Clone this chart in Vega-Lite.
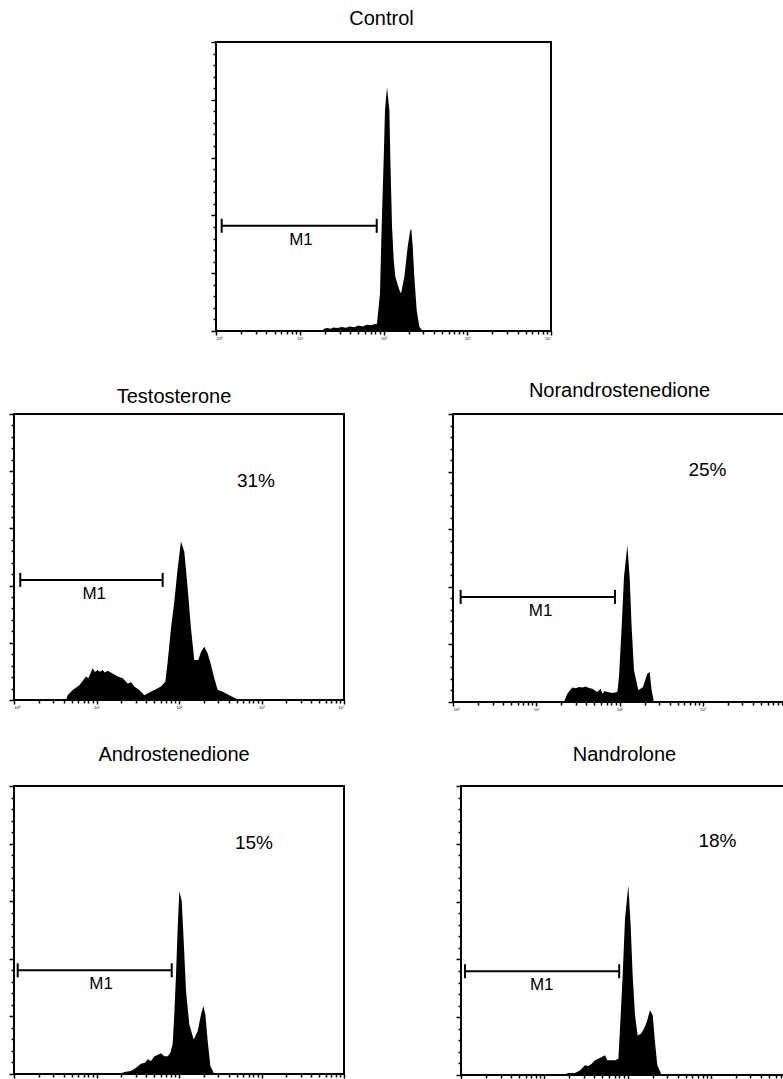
{
  "$schema": "https://vega.github.io/schema/vega-lite/v6.json",
  "padding": {"left": 7, "top": 8, "right": 0, "bottom": 0},
  "background": "white",
  "datasets": {
    "hist": [
      {"p":"Control","x":1.27,"y":0},{"p":"Control","x":1.29,"y":0.8},{"p":"Control","x":1.33,"y":1.0},{"p":"Control","x":1.37,"y":0.8},{"p":"Control","x":1.40,"y":1.2},{"p":"Control","x":1.45,"y":1.0},{"p":"Control","x":1.50,"y":1.4},{"p":"Control","x":1.55,"y":1.1},{"p":"Control","x":1.60,"y":1.6},{"p":"Control","x":1.65,"y":1.3},{"p":"Control","x":1.70,"y":1.9},{"p":"Control","x":1.75,"y":1.6},{"p":"Control","x":1.80,"y":2.2},{"p":"Control","x":1.85,"y":2.0},{"p":"Control","x":1.90,"y":2.4},{"p":"Control","x":1.922,"y":2.5},{"p":"Control","x":1.958,"y":13.0},{"p":"Control","x":1.978,"y":36.1},{"p":"Control","x":2.002,"y":59.2},{"p":"Control","x":2.018,"y":76.5},{"p":"Control","x":2.042,"y":84.3},{"p":"Control","x":2.070,"y":76.5},{"p":"Control","x":2.082,"y":59.2},{"p":"Control","x":2.102,"y":36.1},{"p":"Control","x":2.122,"y":24.6},{"p":"Control","x":2.141,"y":18.8},{"p":"Control","x":2.189,"y":14.2},{"p":"Control","x":2.209,"y":13.0},{"p":"Control","x":2.249,"y":18.8},{"p":"Control","x":2.289,"y":29.2},{"p":"Control","x":2.320,"y":34.9},{"p":"Control","x":2.332,"y":35.2},{"p":"Control","x":2.349,"y":29.2},{"p":"Control","x":2.368,"y":18.8},{"p":"Control","x":2.396,"y":7.3},{"p":"Control","x":2.428,"y":1.5},{"p":"Control","x":2.468,"y":0},
      {"p":"Testosterone","x":0.630,"y":0},{"p":"Testosterone","x":0.651,"y":1.7},{"p":"Testosterone","x":0.711,"y":3.5},{"p":"Testosterone","x":0.792,"y":5.2},{"p":"Testosterone","x":0.873,"y":8.2},{"p":"Testosterone","x":0.901,"y":7.6},{"p":"Testosterone","x":0.954,"y":11.1},{"p":"Testosterone","x":0.98,"y":9.8},{"p":"Testosterone","x":1.014,"y":10.5},{"p":"Testosterone","x":1.04,"y":9.9},{"p":"Testosterone","x":1.075,"y":10.5},{"p":"Testosterone","x":1.10,"y":9.6},{"p":"Testosterone","x":1.136,"y":10.2},{"p":"Testosterone","x":1.196,"y":9.3},{"p":"Testosterone","x":1.257,"y":8.2},{"p":"Testosterone","x":1.318,"y":7.6},{"p":"Testosterone","x":1.378,"y":5.8},{"p":"Testosterone","x":1.42,"y":6.2},{"p":"Testosterone","x":1.458,"y":4.7},{"p":"Testosterone","x":1.519,"y":3.5},{"p":"Testosterone","x":1.58,"y":1.7},{"p":"Testosterone","x":1.62,"y":2.3},{"p":"Testosterone","x":1.70,"y":3.5},{"p":"Testosterone","x":1.782,"y":4.7},{"p":"Testosterone","x":1.834,"y":6.4},{"p":"Testosterone","x":1.863,"y":13.4},{"p":"Testosterone","x":1.903,"y":25.1},{"p":"Testosterone","x":1.943,"y":34.4},{"p":"Testosterone","x":1.984,"y":46.1},{"p":"Testosterone","x":2.024,"y":55.4},{"p":"Testosterone","x":2.064,"y":51.9},{"p":"Testosterone","x":2.105,"y":39.1},{"p":"Testosterone","x":2.145,"y":25.1},{"p":"Testosterone","x":2.185,"y":14.0},{"p":"Testosterone","x":2.234,"y":14.0},{"p":"Testosterone","x":2.267,"y":16.9},{"p":"Testosterone","x":2.307,"y":18.6},{"p":"Testosterone","x":2.348,"y":16.3},{"p":"Testosterone","x":2.388,"y":12.2},{"p":"Testosterone","x":2.428,"y":7.6},{"p":"Testosterone","x":2.469,"y":3.5},{"p":"Testosterone","x":2.53,"y":2.9},{"p":"Testosterone","x":2.61,"y":1.7},{"p":"Testosterone","x":2.67,"y":0.8},{"p":"Testosterone","x":2.731,"y":0},
      {"p":"Norandrostenedione","x":1.333,"y":0},{"p":"Norandrostenedione","x":1.373,"y":2.9},{"p":"Norandrostenedione","x":1.433,"y":5.0},{"p":"Norandrostenedione","x":1.474,"y":4.8},{"p":"Norandrostenedione","x":1.514,"y":5.2},{"p":"Norandrostenedione","x":1.554,"y":5.0},{"p":"Norandrostenedione","x":1.594,"y":5.4},{"p":"Norandrostenedione","x":1.633,"y":4.9},{"p":"Norandrostenedione","x":1.673,"y":4.6},{"p":"Norandrostenedione","x":1.733,"y":3.5},{"p":"Norandrostenedione","x":1.774,"y":4.6},{"p":"Norandrostenedione","x":1.794,"y":2.9},{"p":"Norandrostenedione","x":1.82,"y":3.8},{"p":"Norandrostenedione","x":1.854,"y":3.5},{"p":"Norandrostenedione","x":1.914,"y":3.1},{"p":"Norandrostenedione","x":1.974,"y":3.5},{"p":"Norandrostenedione","x":1.994,"y":8.7},{"p":"Norandrostenedione","x":2.026,"y":26.0},{"p":"Norandrostenedione","x":2.054,"y":43.4},{"p":"Norandrostenedione","x":2.094,"y":54.4},{"p":"Norandrostenedione","x":2.122,"y":43.4},{"p":"Norandrostenedione","x":2.146,"y":26.0},{"p":"Norandrostenedione","x":2.174,"y":11.0},{"p":"Norandrostenedione","x":2.226,"y":4.1},{"p":"Norandrostenedione","x":2.282,"y":5.2},{"p":"Norandrostenedione","x":2.334,"y":9.8},{"p":"Norandrostenedione","x":2.362,"y":10.4},{"p":"Norandrostenedione","x":2.386,"y":4.1},{"p":"Norandrostenedione","x":2.414,"y":0},
      {"p":"Androstenedione","x":1.277,"y":0},{"p":"Androstenedione","x":1.337,"y":0.7},{"p":"Androstenedione","x":1.418,"y":1.0},{"p":"Androstenedione","x":1.479,"y":2.2},{"p":"Androstenedione","x":1.539,"y":3.6},{"p":"Androstenedione","x":1.588,"y":3.9},{"p":"Androstenedione","x":1.620,"y":5.1},{"p":"Androstenedione","x":1.661,"y":4.5},{"p":"Androstenedione","x":1.701,"y":6.2},{"p":"Androstenedione","x":1.741,"y":6.6},{"p":"Androstenedione","x":1.782,"y":7.2},{"p":"Androstenedione","x":1.822,"y":6.2},{"p":"Androstenedione","x":1.863,"y":6.2},{"p":"Androstenedione","x":1.895,"y":7.4},{"p":"Androstenedione","x":1.923,"y":10.3},{"p":"Androstenedione","x":1.943,"y":20.7},{"p":"Androstenedione","x":1.964,"y":34.6},{"p":"Androstenedione","x":1.984,"y":50.8},{"p":"Androstenedione","x":2.004,"y":63.5},{"p":"Androstenedione","x":2.033,"y":60.1},{"p":"Androstenedione","x":2.057,"y":46.2},{"p":"Androstenedione","x":2.085,"y":28.8},{"p":"Androstenedione","x":2.125,"y":17.3},{"p":"Androstenedione","x":2.178,"y":12.0},{"p":"Androstenedione","x":2.227,"y":14.9},{"p":"Androstenedione","x":2.267,"y":20.7},{"p":"Androstenedione","x":2.295,"y":23.6},{"p":"Androstenedione","x":2.319,"y":20.7},{"p":"Androstenedione","x":2.348,"y":11.5},{"p":"Androstenedione","x":2.38,"y":2.8},{"p":"Androstenedione","x":2.428,"y":0},
      {"p":"Nandrolone","x":1.229,"y":0},{"p":"Nandrolone","x":1.289,"y":0.7},{"p":"Nandrolone","x":1.369,"y":0.7},{"p":"Nandrolone","x":1.429,"y":1.6},{"p":"Nandrolone","x":1.489,"y":3.4},{"p":"Nandrolone","x":1.529,"y":3.1},{"p":"Nandrolone","x":1.57,"y":3.9},{"p":"Nandrolone","x":1.61,"y":5.1},{"p":"Nandrolone","x":1.649,"y":5.6},{"p":"Nandrolone","x":1.69,"y":6.2},{"p":"Nandrolone","x":1.73,"y":6.8},{"p":"Nandrolone","x":1.757,"y":5.1},{"p":"Nandrolone","x":1.79,"y":5.1},{"p":"Nandrolone","x":1.85,"y":5.1},{"p":"Nandrolone","x":1.89,"y":5.6},{"p":"Nandrolone","x":1.91,"y":16.0},{"p":"Nandrolone","x":1.942,"y":34.5},{"p":"Nandrolone","x":1.97,"y":54.1},{"p":"Nandrolone","x":2.01,"y":65.6},{"p":"Nandrolone","x":2.038,"y":51.8},{"p":"Nandrolone","x":2.062,"y":34.5},{"p":"Nandrolone","x":2.09,"y":20.7},{"p":"Nandrolone","x":2.122,"y":13.7},{"p":"Nandrolone","x":2.162,"y":14.3},{"p":"Nandrolone","x":2.198,"y":16.0},{"p":"Nandrolone","x":2.231,"y":18.3},{"p":"Nandrolone","x":2.27,"y":22.4},{"p":"Nandrolone","x":2.303,"y":20.7},{"p":"Nandrolone","x":2.33,"y":11.5},{"p":"Nandrolone","x":2.358,"y":3.4},{"p":"Nandrolone","x":2.41,"y":0}
    ],
    "gate": [
      {"p":"Control","x1":0.068,"x2":1.919,"xm":1.015,"y":36.4,"label":"M1"},
      {"p":"Testosterone","x1":0.076,"x2":1.802,"xm":0.973,"y":42.0,"label":"M1"},
      {"p":"Norandrostenedione","x1":0.092,"x2":1.946,"xm":1.053,"y":36.5,"label":"M1"},
      {"p":"Androstenedione","x1":0.045,"x2":1.912,"xm":1.055,"y":36.0,"label":"M1"},
      {"p":"Nandrolone","x1":0.048,"x2":1.90,"xm":0.97,"y":35.9,"label":"M1"}
    ],
    "pct": [
      {"p":"Testosterone","x":2.933,"y":76.4,"label":"31%"},
      {"p":"Norandrostenedione","x":3.057,"y":80.6,"label":"25%"},
      {"p":"Androstenedione","x":2.909,"y":80.2,"label":"15%"},
      {"p":"Nandrolone","x":3.081,"y":80.8,"label":"18%"}
    ]
  },
  "vconcat": [
    {
      "hconcat": [
        {"width": 195, "height": 10, "view": {"stroke": null}, "data": {"values": []}, "mark": "text", "encoding": {}},
        {
          "title": {"text": "Control", "offset": 12, "dx": -2},
          "width": 335, "height": 289,
          "layer": [
            {"data": {"name": "hist"}, "transform": [{"filter": "datum.p === 'Control'"}], "mark": {"type": "area", "color": "black", "interpolate": "linear"},
             "encoding": {
               "x": {"field": "x", "type": "quantitative", "scale": {"domain": [0, 4], "nice": false, "zero": false}, "axis": {"title": null, "tickCount": 100, "values": [0,0.301,0.477,0.602,0.699,0.778,0.845,0.903,0.954,1,1.301,1.477,1.602,1.699,1.778,1.845,1.903,1.954,2,2.301,2.477,2.602,2.699,2.778,2.845,2.903,2.954,3,3.301,3.477,3.602,3.699,3.778,3.845,3.903,3.954,4], "labelExpr": "datum.value % 1 === 0 ? '10' + ['⁰','¹','²','³','⁴'][datum.value] : ''", "labelFontSize": 4, "labelPadding": 1, "labelOverlap": false, "tickSize": {"condition": {"test": "datum.value % 1 === 0", "value": 4}, "value": 3}}},
               "y": {"field": "y", "type": "quantitative", "scale": {"domain": [0, 100], "nice": false}, "axis": {"title": null, "tickCount": 100, "labels": false, "values": [0,4,8,12,16,20,24,28,32,36,40,44,48,52,56,60,64,68,72,76,80,84,88,92,96,100], "tickSize": {"condition": {"test": "datum.value % 20 === 0", "value": 5}, "value": 3}}}
             }},
            {"data": {"name": "gate"}, "transform": [{"filter": "datum.p === 'Control'"}], "mark": {"type": "rule", "color": "black", "strokeWidth": 2},
             "encoding": {"x": {"field": "x1", "type": "quantitative", "title": null}, "x2": {"field": "x2"}, "y": {"field": "y", "type": "quantitative", "title": null}}},
            {"data": {"name": "gate"}, "transform": [{"filter": "datum.p === 'Control'"}], "mark": {"type": "tick", "orient": "vertical", "color": "black", "thickness": 2, "size": 14, "opacity": 1},
             "encoding": {"x": {"field": "x1", "type": "quantitative", "title": null}, "y": {"field": "y", "type": "quantitative", "title": null}}},
            {"data": {"name": "gate"}, "transform": [{"filter": "datum.p === 'Control'"}], "mark": {"type": "tick", "orient": "vertical", "color": "black", "thickness": 2, "size": 14, "opacity": 1},
             "encoding": {"x": {"field": "x2", "type": "quantitative", "title": null}, "y": {"field": "y", "type": "quantitative", "title": null}}},
            {"data": {"name": "gate"}, "transform": [{"filter": "datum.p === 'Control'"}], "mark": {"type": "text", "dy": 14, "fontSize": 17, "baseline": "middle", "color": "black"},
             "encoding": {"x": {"field": "xm", "type": "quantitative", "title": null}, "y": {"field": "y", "type": "quantitative", "title": null}, "text": {"field": "label"}}}
          ]
        }
      ],
      "spacing": 0
    },
    {
      "vconcat": [
        {
          "hconcat": [
            {
              "title": {"text": "Testosterone", "offset": 6, "dx": -5},
              "width": 330, "height": 286,
              "layer": [
                {"data": {"name": "hist"}, "transform": [{"filter": "datum.p === 'Testosterone'"}], "mark": {"type": "area", "color": "black", "interpolate": "linear"},
                 "encoding": {
                   "x": {"field": "x", "type": "quantitative", "scale": {"domain": [0, 4], "nice": false, "zero": false}, "axis": {"title": null, "tickCount": 100, "values": [0,0.301,0.477,0.602,0.699,0.778,0.845,0.903,0.954,1,1.301,1.477,1.602,1.699,1.778,1.845,1.903,1.954,2,2.301,2.477,2.602,2.699,2.778,2.845,2.903,2.954,3,3.301,3.477,3.602,3.699,3.778,3.845,3.903,3.954,4], "labelExpr": "datum.value % 1 === 0 ? '10' + ['⁰','¹','²','³','⁴'][datum.value] : ''", "labelFontSize": 4, "labelPadding": 1, "labelOverlap": false, "tickSize": {"condition": {"test": "datum.value % 1 === 0", "value": 4}, "value": 3}}},
                   "y": {"field": "y", "type": "quantitative", "scale": {"domain": [0, 100], "nice": false}, "axis": {"title": null, "tickCount": 100, "labels": false, "values": [0,4,8,12,16,20,24,28,32,36,40,44,48,52,56,60,64,68,72,76,80,84,88,92,96,100], "tickSize": {"condition": {"test": "datum.value % 20 === 0", "value": 5}, "value": 3}}}
                 }},
                {"data": {"name": "gate"}, "transform": [{"filter": "datum.p === 'Testosterone'"}], "mark": {"type": "rule", "color": "black", "strokeWidth": 2},
                 "encoding": {"x": {"field": "x1", "type": "quantitative", "title": null}, "x2": {"field": "x2"}, "y": {"field": "y", "type": "quantitative", "title": null}}},
                {"data": {"name": "gate"}, "transform": [{"filter": "datum.p === 'Testosterone'"}], "mark": {"type": "tick", "orient": "vertical", "color": "black", "thickness": 2, "size": 14, "opacity": 1},
                 "encoding": {"x": {"field": "x1", "type": "quantitative", "title": null}, "y": {"field": "y", "type": "quantitative", "title": null}}},
                {"data": {"name": "gate"}, "transform": [{"filter": "datum.p === 'Testosterone'"}], "mark": {"type": "tick", "orient": "vertical", "color": "black", "thickness": 2, "size": 14, "opacity": 1},
                 "encoding": {"x": {"field": "x2", "type": "quantitative", "title": null}, "y": {"field": "y", "type": "quantitative", "title": null}}},
                {"data": {"name": "gate"}, "transform": [{"filter": "datum.p === 'Testosterone'"}], "mark": {"type": "text", "dy": 14, "fontSize": 17, "baseline": "middle", "color": "black"},
                 "encoding": {"x": {"field": "xm", "type": "quantitative", "title": null}, "y": {"field": "y", "type": "quantitative", "title": null}, "text": {"field": "label"}}},
                {"data": {"name": "pct"}, "transform": [{"filter": "datum.p === 'Testosterone'"}], "mark": {"type": "text", "fontSize": 19, "baseline": "middle", "color": "black"},
                 "encoding": {"x": {"field": "x", "type": "quantitative", "title": null}, "y": {"field": "y", "type": "quantitative", "title": null}, "text": {"field": "label"}}}
              ]
            },
            {
              "title": {"text": "Norandrostenedione", "offset": 12},
              "width": 333, "height": 288,
              "layer": [
                {"data": {"name": "hist"}, "transform": [{"filter": "datum.p === 'Norandrostenedione'"}], "mark": {"type": "area", "color": "black", "interpolate": "linear"},
                 "encoding": {
                   "x": {"field": "x", "type": "quantitative", "scale": {"domain": [0, 4], "nice": false, "zero": false}, "axis": {"title": null, "tickCount": 100, "values": [0,0.301,0.477,0.602,0.699,0.778,0.845,0.903,0.954,1,1.301,1.477,1.602,1.699,1.778,1.845,1.903,1.954,2,2.301,2.477,2.602,2.699,2.778,2.845,2.903,2.954,3,3.301,3.477,3.602,3.699,3.778,3.845,3.903,3.954,4], "labelExpr": "datum.value % 1 === 0 && datum.value < 4 ? '10' + ['⁰','¹','²','³','⁴'][datum.value] : ''", "labelFontSize": 4, "labelPadding": 1, "labelOverlap": false, "tickSize": {"condition": {"test": "datum.value % 1 === 0", "value": 4}, "value": 3}}},
                   "y": {"field": "y", "type": "quantitative", "scale": {"domain": [0, 100], "nice": false}, "axis": {"title": null, "tickCount": 100, "labels": false, "values": [0,4,8,12,16,20,24,28,32,36,40,44,48,52,56,60,64,68,72,76,80,84,88,92,96,100], "tickSize": {"condition": {"test": "datum.value % 20 === 0", "value": 5}, "value": 3}}}
                 }},
                {"data": {"name": "gate"}, "transform": [{"filter": "datum.p === 'Norandrostenedione'"}], "mark": {"type": "rule", "color": "black", "strokeWidth": 2},
                 "encoding": {"x": {"field": "x1", "type": "quantitative", "title": null}, "x2": {"field": "x2"}, "y": {"field": "y", "type": "quantitative", "title": null}}},
                {"data": {"name": "gate"}, "transform": [{"filter": "datum.p === 'Norandrostenedione'"}], "mark": {"type": "tick", "orient": "vertical", "color": "black", "thickness": 2, "size": 14, "opacity": 1},
                 "encoding": {"x": {"field": "x1", "type": "quantitative", "title": null}, "y": {"field": "y", "type": "quantitative", "title": null}}},
                {"data": {"name": "gate"}, "transform": [{"filter": "datum.p === 'Norandrostenedione'"}], "mark": {"type": "tick", "orient": "vertical", "color": "black", "thickness": 2, "size": 14, "opacity": 1},
                 "encoding": {"x": {"field": "x2", "type": "quantitative", "title": null}, "y": {"field": "y", "type": "quantitative", "title": null}}},
                {"data": {"name": "gate"}, "transform": [{"filter": "datum.p === 'Norandrostenedione'"}], "mark": {"type": "text", "dy": 14, "fontSize": 17, "baseline": "middle", "color": "black"},
                 "encoding": {"x": {"field": "xm", "type": "quantitative", "title": null}, "y": {"field": "y", "type": "quantitative", "title": null}, "text": {"field": "label"}}},
                {"data": {"name": "pct"}, "transform": [{"filter": "datum.p === 'Norandrostenedione'"}], "mark": {"type": "text", "fontSize": 19, "baseline": "middle", "color": "black"},
                 "encoding": {"x": {"field": "x", "type": "quantitative", "title": null}, "y": {"field": "y", "type": "quantitative", "title": null}, "text": {"field": "label"}}}
              ]
            }
          ],
          "spacing": 100
        },
        {
          "hconcat": [
            {
              "title": {"text": "Androstenedione", "offset": 20, "dx": -5},
              "width": 330, "height": 288,
              "layer": [
                {"data": {"name": "hist"}, "transform": [{"filter": "datum.p === 'Androstenedione'"}], "mark": {"type": "area", "color": "black", "interpolate": "linear"},
                 "encoding": {
                   "x": {"field": "x", "type": "quantitative", "scale": {"domain": [0, 4], "nice": false, "zero": false}, "axis": {"title": null, "tickCount": 100, "labels": false, "values": [0,0.301,0.477,0.602,0.699,0.778,0.845,0.903,0.954,1,1.301,1.477,1.602,1.699,1.778,1.845,1.903,1.954,2,2.301,2.477,2.602,2.699,2.778,2.845,2.903,2.954,3,3.301,3.477,3.602,3.699,3.778,3.845,3.903,3.954,4], "tickSize": {"condition": {"test": "datum.value % 1 === 0", "value": 4}, "value": 3}}},
                   "y": {"field": "y", "type": "quantitative", "scale": {"domain": [0, 100], "nice": false}, "axis": {"title": null, "tickCount": 100, "labels": false, "values": [0,4,8,12,16,20,24,28,32,36,40,44,48,52,56,60,64,68,72,76,80,84,88,92,96,100], "tickSize": {"condition": {"test": "datum.value % 20 === 0", "value": 5}, "value": 3}}}
                 }},
                {"data": {"name": "gate"}, "transform": [{"filter": "datum.p === 'Androstenedione'"}], "mark": {"type": "rule", "color": "black", "strokeWidth": 2},
                 "encoding": {"x": {"field": "x1", "type": "quantitative", "title": null}, "x2": {"field": "x2"}, "y": {"field": "y", "type": "quantitative", "title": null}}},
                {"data": {"name": "gate"}, "transform": [{"filter": "datum.p === 'Androstenedione'"}], "mark": {"type": "tick", "orient": "vertical", "color": "black", "thickness": 2, "size": 14, "opacity": 1},
                 "encoding": {"x": {"field": "x1", "type": "quantitative", "title": null}, "y": {"field": "y", "type": "quantitative", "title": null}}},
                {"data": {"name": "gate"}, "transform": [{"filter": "datum.p === 'Androstenedione'"}], "mark": {"type": "tick", "orient": "vertical", "color": "black", "thickness": 2, "size": 14, "opacity": 1},
                 "encoding": {"x": {"field": "x2", "type": "quantitative", "title": null}, "y": {"field": "y", "type": "quantitative", "title": null}}},
                {"data": {"name": "gate"}, "transform": [{"filter": "datum.p === 'Androstenedione'"}], "mark": {"type": "text", "dy": 14, "fontSize": 17, "baseline": "middle", "color": "black"},
                 "encoding": {"x": {"field": "xm", "type": "quantitative", "title": null}, "y": {"field": "y", "type": "quantitative", "title": null}, "text": {"field": "label"}}},
                {"data": {"name": "pct"}, "transform": [{"filter": "datum.p === 'Androstenedione'"}], "mark": {"type": "text", "fontSize": 19, "baseline": "middle", "color": "black"},
                 "encoding": {"x": {"field": "x", "type": "quantitative", "title": null}, "y": {"field": "y", "type": "quantitative", "title": null}, "text": {"field": "label"}}}
              ]
            },
            {
              "title": {"text": "Nandrolone", "offset": 20, "dx": -3},
              "width": 333, "height": 289,
              "layer": [
                {"data": {"name": "hist"}, "transform": [{"filter": "datum.p === 'Nandrolone'"}], "mark": {"type": "area", "color": "black", "interpolate": "linear"},
                 "encoding": {
                   "x": {"field": "x", "type": "quantitative", "scale": {"domain": [0, 4], "nice": false, "zero": false}, "axis": {"title": null, "tickCount": 100, "labels": false, "values": [0,0.301,0.477,0.602,0.699,0.778,0.845,0.903,0.954,1,1.301,1.477,1.602,1.699,1.778,1.845,1.903,1.954,2,2.301,2.477,2.602,2.699,2.778,2.845,2.903,2.954,3,3.301,3.477,3.602,3.699,3.778,3.845,3.903,3.954,4], "tickSize": {"condition": {"test": "datum.value % 1 === 0", "value": 4}, "value": 3}}},
                   "y": {"field": "y", "type": "quantitative", "scale": {"domain": [0, 100], "nice": false}, "axis": {"title": null, "tickCount": 100, "labels": false, "values": [0,4,8,12,16,20,24,28,32,36,40,44,48,52,56,60,64,68,72,76,80,84,88,92,96,100], "tickSize": {"condition": {"test": "datum.value % 20 === 0", "value": 5}, "value": 3}}}
                 }},
                {"data": {"name": "gate"}, "transform": [{"filter": "datum.p === 'Nandrolone'"}], "mark": {"type": "rule", "color": "black", "strokeWidth": 2},
                 "encoding": {"x": {"field": "x1", "type": "quantitative", "title": null}, "x2": {"field": "x2"}, "y": {"field": "y", "type": "quantitative", "title": null}}},
                {"data": {"name": "gate"}, "transform": [{"filter": "datum.p === 'Nandrolone'"}], "mark": {"type": "tick", "orient": "vertical", "color": "black", "thickness": 2, "size": 14, "opacity": 1},
                 "encoding": {"x": {"field": "x1", "type": "quantitative", "title": null}, "y": {"field": "y", "type": "quantitative", "title": null}}},
                {"data": {"name": "gate"}, "transform": [{"filter": "datum.p === 'Nandrolone'"}], "mark": {"type": "tick", "orient": "vertical", "color": "black", "thickness": 2, "size": 14, "opacity": 1},
                 "encoding": {"x": {"field": "x2", "type": "quantitative", "title": null}, "y": {"field": "y", "type": "quantitative", "title": null}}},
                {"data": {"name": "gate"}, "transform": [{"filter": "datum.p === 'Nandrolone'"}], "mark": {"type": "text", "dy": 14, "fontSize": 17, "baseline": "middle", "color": "black"},
                 "encoding": {"x": {"field": "xm", "type": "quantitative", "title": null}, "y": {"field": "y", "type": "quantitative", "title": null}, "text": {"field": "label"}}},
                {"data": {"name": "pct"}, "transform": [{"filter": "datum.p === 'Nandrolone'"}], "mark": {"type": "text", "fontSize": 19, "baseline": "middle", "color": "black"},
                 "encoding": {"x": {"field": "x", "type": "quantitative", "title": null}, "y": {"field": "y", "type": "quantitative", "title": null}, "text": {"field": "label"}}}
              ]
            }
          ],
          "spacing": 108
        }
      ],
      "spacing": 32
    }
  ],
  "spacing": 39,
  "config": {
    "font": "Liberation Sans",
    "view": {"stroke": "black", "strokeWidth": 2},
    "title": {"fontSize": 20, "fontWeight": "normal", "color": "black", "baseline": "alphabetic", "font": "Liberation Sans"},
    "axis": {"domain": false, "grid": false, "tickColor": "black", "tickWidth": 1.5, "labelColor": "black", "labelFont": "Liberation Sans"},
    "text": {"font": "Liberation Sans"}
  }
}
